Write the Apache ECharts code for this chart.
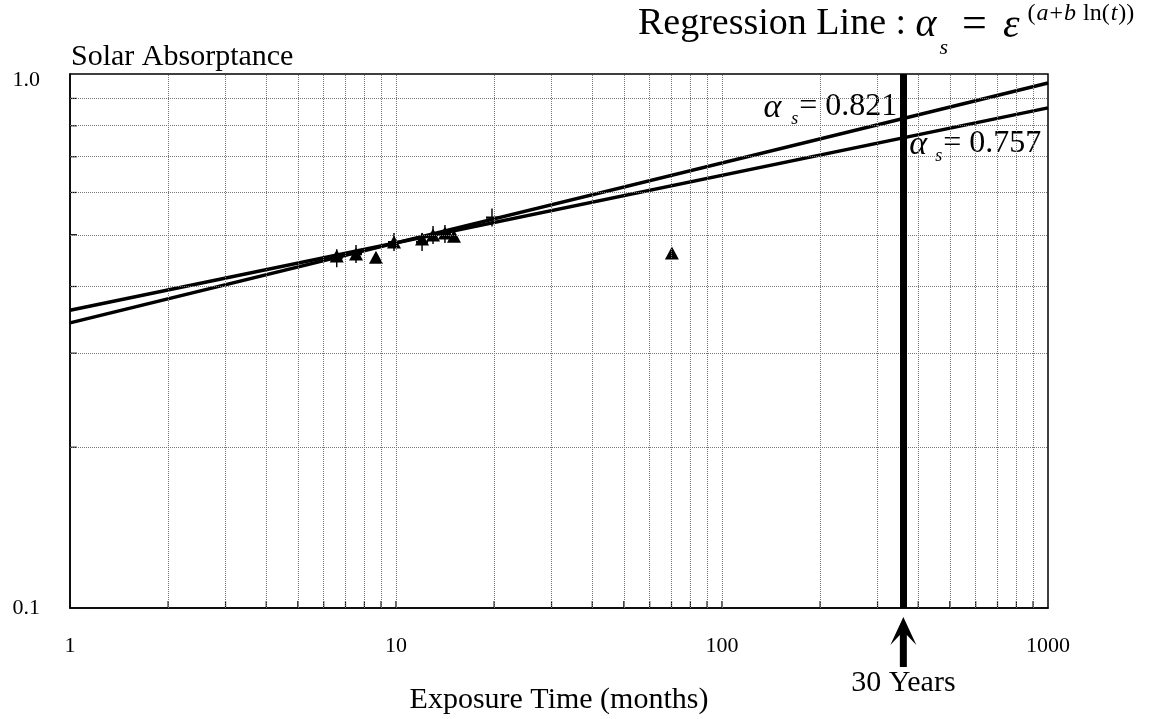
<!DOCTYPE html>
<html><head><meta charset="utf-8">
<script src="https://cdn.jsdelivr.net/npm/echarts@6/dist/echarts.min.js"></script>
<style>html,body{margin:0;padding:0;background:#fff}#c{width:1157px;height:719px}</style>
</head><body><div id="c"></div>
<script>
// ---- data ----
const xTickValues = [1, 10, 100, 1000];
const xTickLabels = ['1', '10', '100', '1000'];
const yTickValues = [0.1, 1];
const yTickLabels = ['0.1', '1.0'];
const xGridValues = [2,3,4,5,6,7,8,9,10,20,30,40,50,60,70,80,90,100,200,300,400,500,600,700,800,900];
const yGridValues = [0.2,0.3,0.4,0.5,0.6,0.7,0.8,0.9];
const triTimes  = [6.58, 7.54, 8.68, 9.86, 12.02, 12.99, 14.13, 15.06, 70.2];
const triValues = [0.456, 0.460, 0.454, 0.4845, 0.491, 0.4995, 0.504, 0.497, 0.462];
const plusTimes  = [6.58, 7.54, 9.86, 12.02, 12.99, 14.13, 19.7];
const plusValues = [0.452, 0.460, 0.4845, 0.4845, 0.4995, 0.5015, 0.5385];
const regATimes = [1, 1000];
const regAValues = [0.342, 0.962];
const regBTimes = [1, 1000];
const regBValues = [0.361, 0.864];
const horizonMonths = 360;
const horizonLabel = '30 Years';
const predA = 0.821;
const predB = 0.757;

const serif = '"Liberation Serif","Times New Roman",serif';
const zip = (a, b) => a.map((v, i) => [v, b[i]]);
const lookup = (vals, labels, v) => {
  const i = vals.findIndex(t => Math.abs(t - v) <= 1e-6 * t);
  return i >= 0 ? labels[i] : '';
};

const chart = echarts.init(document.getElementById('c'), null, {renderer: 'canvas'});
const option = {
  animation: false,
  backgroundColor: '#fff',
  title: {text: 'Solar Absorptance', left: 66, top: 37,
    textStyle: {fontFamily: serif, fontSize: 30, fontWeight: 'normal', color: '#000'}},
  grid: {left: 70, right: 109, top: 74, bottom: 111, containLabel: false, outerBoundsMode: 'none',
    show: true, borderColor: '#000', borderWidth: 1.5},
  xAxis: {
    type: 'log', logBase: 10, min: 1, max: 1000,
    name: 'Exposure Time (months)', nameLocation: 'middle', nameGap: 77,
    nameTextStyle: {fontFamily: serif, fontSize: 30, color: '#000'},
    axisLine: {lineStyle: {color: '#000', width: 1.5}},
    axisTick: {show: false}, splitLine: {show: false}, minorTick: {show: false},
    axisLabel: {fontFamily: serif, fontSize: 22, color: '#000', margin: 27,
      formatter: v => lookup(xTickValues, xTickLabels, v)}
  },
  yAxis: {
    type: 'log', logBase: 10, min: 0.1, max: 1,
    axisLine: {lineStyle: {color: '#000', width: 1.5}},
    axisTick: {show: false}, splitLine: {show: false},
    axisLabel: {fontFamily: serif, fontSize: 22, color: '#000', margin: 30,
      formatter: v => {
        const s = lookup(yTickValues, yTickLabels, v);
        return v > 0.5 ? '{t|' + s + '}' : s;
      },
      rich: {t: {fontFamily: serif, fontSize: 22, color: '#000', padding: [12, 0, 0, 0]}}}
  },
  series: [
    {type: 'line', data: zip(regATimes, regAValues), symbol: 'none', lineStyle: {opacity: 0}, z: 1, silent: true,
      markLine: {silent: true, symbol: 'none', label: {show: false}, animation: false,
        lineStyle: {color: '#777', type: 'dotted', width: 1},
        data: xGridValues.map(v => ({xAxis: v})).concat(yGridValues.map(v => ({yAxis: v})))}},
    {type: 'scatter', data: xGridValues.map(v => [v, 0.1]), symbol: 'rect', symbolSize: [1.2, 7],
      symbolOffset: [0, -3.5], itemStyle: {color: '#000', opacity: 1}, clip: false, silent: true, z: 2},
    {type: 'scatter', data: yGridValues.map(v => [1, v]), symbol: 'rect', symbolSize: [7, 1.2],
      symbolOffset: [3.5, 0], itemStyle: {color: '#000', opacity: 1}, clip: false, silent: true, z: 2},
    {type: 'line', data: zip(regATimes, regAValues), symbol: 'none', lineStyle: {color: '#000', width: 3.5}, z: 3,
      markLine: {silent: true, symbol: 'none', label: {show: false}, animation: false,
        lineStyle: {color: '#000', type: 'solid', width: 7}, data: [{xAxis: horizonMonths}]}},
    {type: 'line', data: zip(regBTimes, regBValues), symbol: 'none', lineStyle: {color: '#000', width: 3.5}, z: 3},
    {type: 'scatter', data: zip(triTimes, triValues), symbol: 'triangle', symbolSize: [14, 13],
      itemStyle: {color: '#000', opacity: 1}, z: 4},
    {type: 'scatter', data: zip(plusTimes, plusValues),
      symbol: 'path://M4.4,0 L5.6,0 L5.6,4.4 L10,4.4 L10,5.6 L5.6,5.6 L5.6,10 L4.4,10 L4.4,5.6 L0,5.6 L0,4.4 L4.4,4.4 Z',
      symbolSize: [12, 18], itemStyle: {color: '#000', opacity: 1}, z: 4}
  ]
};
chart.setOption(option);

const hx = chart.convertToPixel({xAxisIndex: 0}, horizonMonths);
const yA = chart.convertToPixel({yAxisIndex: 0}, predA);
const yB = chart.convertToPixel({yAxisIndex: 0}, predB);
const yBot = chart.convertToPixel({yAxisIndex: 0}, 0.1);

const fS = {fontFamily: serif, fill: '#000'};
chart.setOption({graphic: [
  {type: 'polygon', silent: true, shape: {points: [
    [hx, yBot + 9], [hx + 13, yBot + 37], [hx + 3.5, yBot + 27], [hx + 3.5, yBot + 59],
    [hx - 3.5, yBot + 59], [hx - 3.5, yBot + 27], [hx - 13, yBot + 37]]}, style: {fill: '#000'}},
  {type: 'text', silent: true, style: Object.assign({x: hx, y: yBot + 60, text: horizonLabel,
    fontSize: 30, align: 'center', verticalAlign: 'top'}, fS)},
  {type: 'text', silent: true, style: {x: hx - 6, y: yA - 29, align: 'right', verticalAlign: 'top',
    text: '{i|α}{sub|s}{n|= ' + predA.toFixed(3) + '}',
    rich: {
      i: Object.assign({fontSize: 34, fontStyle: 'italic', lineHeight: 34, verticalAlign: 'top', padding: [0, 10, 0, 0]}, fS),
      sub: Object.assign({fontSize: 18, fontStyle: 'italic', lineHeight: 18, verticalAlign: 'top', padding: [20, 1, 0, 0]}, fS),
      n: Object.assign({fontSize: 32, lineHeight: 34, verticalAlign: 'top'}, fS)
    }}},
  {type: 'text', silent: true, style: {x: hx + 6, y: yB - 11, align: 'left', verticalAlign: 'top',
    text: '{i|α}{sub|s}{n|= ' + predB.toFixed(3) + '}',
    rich: {
      i: Object.assign({fontSize: 34, fontStyle: 'italic', lineHeight: 34, verticalAlign: 'top', padding: [0, 8, 0, 0]}, fS),
      sub: Object.assign({fontSize: 18, fontStyle: 'italic', lineHeight: 18, verticalAlign: 'top', padding: [20, 1, 0, 0]}, fS),
      n: Object.assign({fontSize: 32, lineHeight: 34, verticalAlign: 'top'}, fS)
    }}},
  {type: 'text', silent: true, style: {x: 638, y: 5, align: 'left', verticalAlign: 'top',
    text: '{n|Regression Line : }{i|α}{sub|s}{eq|=}{e|ε}{sp|(}{spi|a}{sp|+}{spi|b}{sp| ln(}{spi|t}{sp|))}',
    rich: {
      n: Object.assign({fontSize: 38, lineHeight: 40, verticalAlign: 'top'}, fS),
      eq: Object.assign({fontSize: 44, lineHeight: 40, verticalAlign: 'top', padding: [-2, 16, 0, 12]}, fS),
      i: Object.assign({fontSize: 40, fontStyle: 'italic', lineHeight: 40, verticalAlign: 'top'}, fS),
      e: Object.assign({fontSize: 42, fontStyle: 'italic', lineHeight: 40, verticalAlign: 'top', padding: [0, 8, 0, 0]}, fS),
      sub: Object.assign({fontSize: 22, fontStyle: 'italic', lineHeight: 22, verticalAlign: 'top', padding: [32, 2, 0, 3]}, fS),
      sp: Object.assign({fontSize: 24, lineHeight: 24, verticalAlign: 'top', padding: [-3, 0, 0, 0]}, fS),
      spi: Object.assign({fontSize: 24, fontStyle: 'italic', lineHeight: 24, verticalAlign: 'top', padding: [-3, 1, 0, 1]}, fS)
    }}}
]});
</script>
</body></html>
